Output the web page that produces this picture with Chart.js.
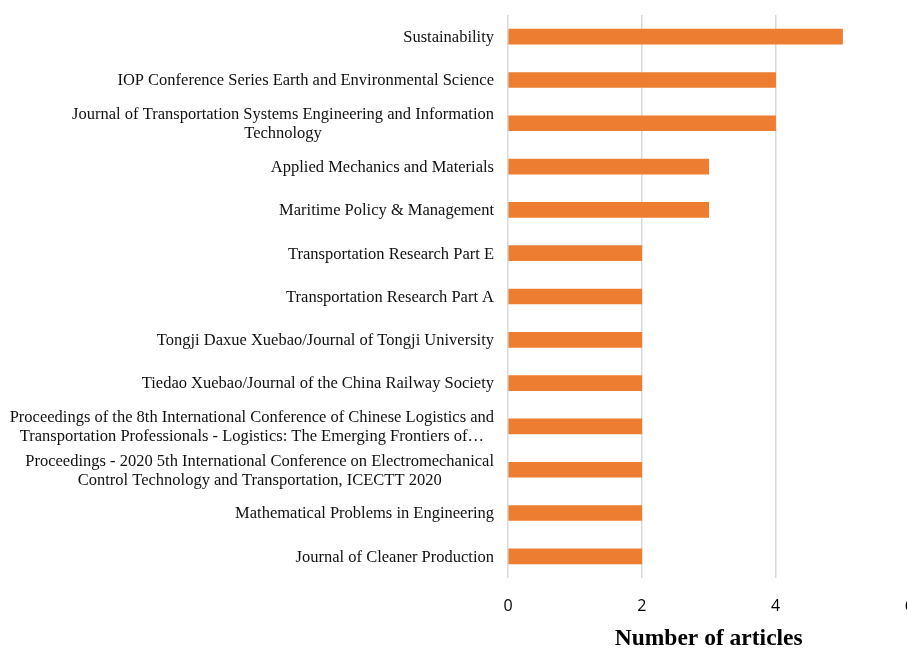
<!DOCTYPE html>
<html>
<head>
<meta charset="utf-8">
<script src="https://cdn.jsdelivr.net/npm/chart.js@4"></script>
<style>
  html, body { margin: 0; padding: 0; background: #fff; overflow: hidden; }
  #wrap { width: 933px; height: 649px; }
</style>
</head>
<body>
<div id="wrap"><canvas id="chart"></canvas></div>
<script>
// journals, top to bottom
const journals = [
  ['Sustainability'],
  ['IOP Conference Series Earth and Environmental Science'],
  ['Journal of Transportation Systems Engineering and Information', 'Technology'],
  ['Applied Mechanics and Materials'],
  ['Maritime Policy & Management'],
  ['Transportation Research Part E'],
  ['Transportation Research Part A'],
  ['Tongji Daxue Xuebao/Journal of Tongji University'],
  ['Tiedao Xuebao/Journal of the China Railway Society'],
  ['Proceedings of the 8th International Conference of Chinese Logistics and', 'Transportation Professionals - Logistics: The Emerging Frontiers of\u2026'],
  ['Proceedings - 2020 5th International Conference on Electromechanical', 'Control Technology and Transportation, ICECTT 2020'],
  ['Mathematical Problems in Engineering'],
  ['Journal of Cleaner Production']
];
const articles = [5, 4, 4, 3, 3, 2, 2, 2, 2, 2, 2, 2, 2];
const xTicks = [0, 2, 4, 6];

// draws the category labels: each block right-aligned, lines centred within the block
const labelPlugin = {
  id: 'labels',
  afterDraw(chart) {
    const ctx = chart.ctx;
    const y = chart.scales.y;
    ctx.save();
    ctx.font = '16.5px "Liberation Serif", "Times New Roman", serif';
    ctx.fillStyle = '#111';
    ctx.textAlign = 'center';
    ctx.textBaseline = 'middle';
    const right = chart.chartArea.left - 14;
    const lh = 19;
    journals.forEach((lines, i) => {
      const cy = y.getPixelForValue(i) + 1;
      const w = Math.max(...lines.map(l => ctx.measureText(l).width));
      const cx = right - w / 2;
      const top = cy - (lines.length - 1) * lh / 2;
      lines.forEach((l, k) => ctx.fillText(l, cx, top + k * lh));
    });
    ctx.restore();
  }
};

new Chart(document.getElementById('chart'), {
  type: 'bar',
  data: {
    labels: journals.map(l => l.join(' ')),
    datasets: [{
      data: articles,
      backgroundColor: '#ED7D31',
      barThickness: 15
    }]
  },
  options: {
    indexAxis: 'y',
    responsive: true,
    maintainAspectRatio: false,
    animation: false,
    layout: { padding: { top: 15, right: 20, bottom: 0, left: 0 } },
    plugins: { legend: { display: false }, tooltip: { enabled: false } },
    scales: {
      x: {
        min: 0, max: 6,
        afterBuildTicks(s) { s.ticks = xTicks.map(v => ({ value: v })); },
        grid: { color: '#d9d9d9', lineWidth: 1.5, drawTicks: false },
        border: { display: false },
        ticks: {
          padding: 19,
          color: '#000',
          font: { family: '"Open Sans", "Liberation Sans", sans-serif', size: 16 }
        },
        title: {
          display: true,
          text: 'Number of articles',
          color: '#000',
          font: { family: '"Liberation Serif", "Times New Roman", serif', size: 23.5, weight: 'bold' },
          padding: { top: 10, bottom: -4 }
        },
        afterFit(s) { s.height = 71; }
      },
      y: {
        ticks: { display: false },
        grid: { display: false },
        border: { display: false },
        afterFit(s) { s.width = 508; }
      }
    }
  },
  plugins: [labelPlugin]
});
</script>
</body>
</html>
